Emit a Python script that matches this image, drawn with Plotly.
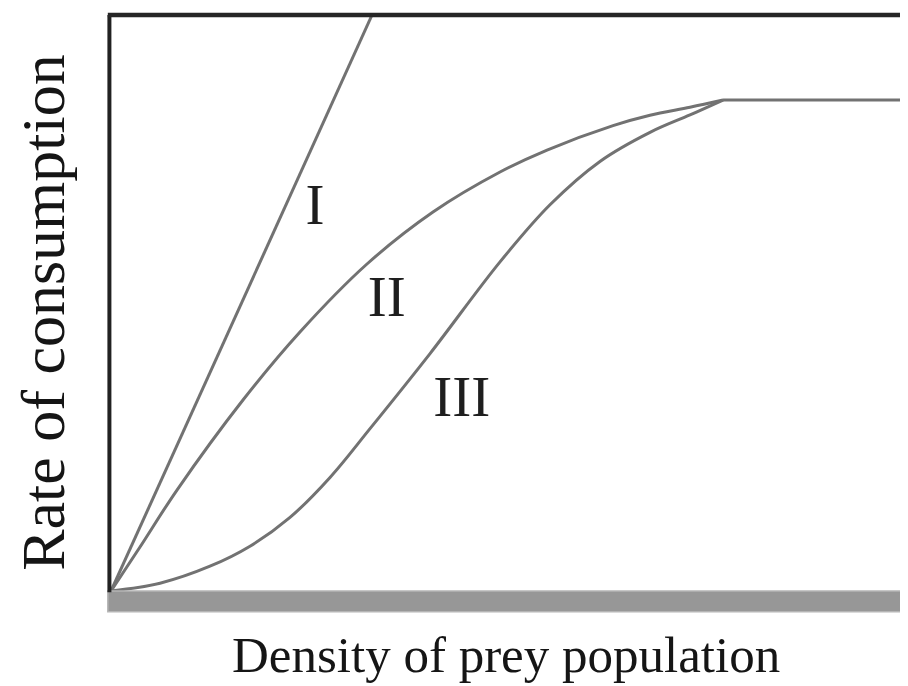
import plotly.graph_objects as go

# values (x, y on a 0-100 scale)
type1_x = [0, 32.75]
type1_y = [0, 100.0]

type2_x = [0, 3.64, 8.28, 16.56, 23.71, 32.12, 40.40, 48.81, 54.71, 62.99, 67.63, 72.65, 76.79]
type2_y = [0, 7.64, 17.53, 33.16, 44.97, 56.77, 65.80, 72.74, 76.56, 80.80, 82.60, 83.99, 85.24]

type3_x = [0, 6.15, 12.42, 17.44, 22.46, 27.48, 32.50, 40.03, 48.81, 55.08, 61.35, 67.63, 72.65, 76.79]
type3_y = [0, 1.35, 4.30, 7.78, 12.78, 19.72, 28.19, 41.22, 57.14, 67.05, 74.58, 79.63, 82.66, 85.24]

# shared saturation level
plateau_x = [76.79, 100]
plateau_y = [85.24, 85.24]

labels = ["I", "II", "III"]
label_x = [25.6, 34.6, 44.0]
label_y = [66.2, 50.2, 32.8]

LINE = "#727272"
SERIF = "Liberation Serif, Times New Roman, serif"

fig = go.Figure()
for xs, ys in [(type1_x, type1_y), (type2_x, type2_y), (type3_x, type3_y), (plateau_x, plateau_y)]:
    fig.add_trace(
        go.Scatter(
            x=xs,
            y=ys,
            mode="lines",
            line=dict(color=LINE, width=3, shape="spline", smoothing=1.0),
            showlegend=False,
            hoverinfo="skip",
        )
    )

fig.add_trace(
    go.Scatter(
        x=label_x,
        y=label_y,
        mode="text",
        text=labels,
        textfont=dict(family=SERIF, size=57, color="#1e1e1e"),
        showlegend=False,
        hoverinfo="skip",
    )
)

# frame: dark left and top borders, thick grey bar along the bottom
fig.add_shape(type="rect", xref="paper", yref="paper", x0=-0.004, x1=1, y0=0, y1=-0.036,
              fillcolor="#979797", line=dict(color="#b5b5b5", width=1.5), layer="above")
fig.add_shape(type="line", xref="paper", yref="paper", x0=-0.002, x1=-0.002, y0=-0.002, y1=1,
              line=dict(color="#222222", width=4))
fig.add_shape(type="line", xref="paper", yref="paper", x0=-0.004, x1=1, y0=1, y1=1,
              line=dict(color="#262626", width=4.5))

fig.add_annotation(text="Rate of consumption", xref="paper", yref="paper", x=-0.0853, y=0.483,
                   xanchor="center", yanchor="middle", textangle=-90, showarrow=False,
                   font=dict(family=SERIF, size=62, color="#151515"))
fig.add_annotation(text="Density of prey population", xref="paper", yref="paper", x=0.495, y=-0.163,
                   xanchor="center", yanchor="bottom", showarrow=False,
                   font=dict(family=SERIF, size=51, color="#151515"))

# page body adds an 8px margin, so the figure is 8px smaller than the window
fig.update_layout(
    width=900,
    height=678,
    margin=dict(l=103, r=0, t=7, b=95),
    paper_bgcolor="white",
    plot_bgcolor="white",
    xaxis=dict(range=[0, 100], showgrid=False, zeroline=False, showticklabels=False, ticks="", fixedrange=True),
    yaxis=dict(range=[0, 100], showgrid=False, zeroline=False, showticklabels=False, ticks="", fixedrange=True),
)
fig.write_html("out.html", config={"displayModeBar": False})
